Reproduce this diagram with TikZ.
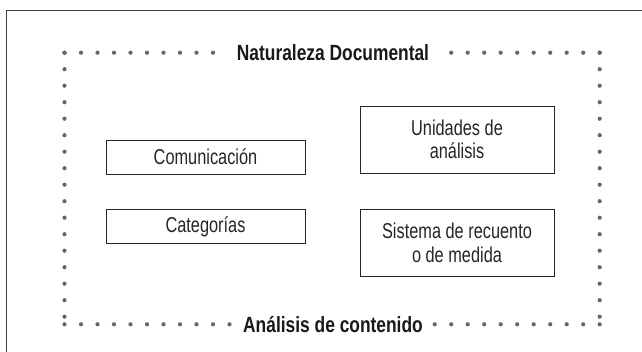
\documentclass[tikz,border=0pt]{standalone}
\usepackage{fontspec}
\setmainfont{Liberation Sans}
\newfontfamily\labelfont{Liberation Sans}[FakeStretch=0.76]
\newfontfamily\titlefont{Liberation Sans}[FakeStretch=0.79]
\begin{document}
\begin{tikzpicture}[x=1pt,y=-1pt,
  frameline/.style={draw=black!75,line width=1.3pt},
  dotline/.style={draw=black!60,line width=4.2pt,line cap=round,dash pattern=on 0pt off 16.5pt},
  boxnode/.style={draw=black!85,line width=0.9pt,fill=white,inner sep=0pt,align=center,text=black!85,font=\labelfont\fontsize{21.5}{23.5}\selectfont},
  titlenode/.style={fill=white,inner xsep=8pt,inner ysep=2pt,text=black!90,font=\titlefont\fontsize{22}{24}\selectfont\bfseries}]
\useasboundingbox (0,0) rectangle (642,352);
\fill[white] (0,0) rectangle (642,352);
% outer frame (open to the right and bottom)
\coordinate (fa) at (642,10.7);
\coordinate (fb) at (6.7,10.7);
\coordinate (fc) at (6.7,352);
\draw[frameline] (fa) -- (fb) -- (fc);
% dotted rectangle corners
\coordinate (nw) at (64.5,52.7);
\coordinate (ne) at (599.7,52.7);
\coordinate (sw) at (64.5,324.3);
\coordinate (se) at (599.7,324.3);
\node[titlenode] (top) at (333,52.7) {Naturaleza Documental};
\node[titlenode] (bot) at (333,324.3) {Análisis de contenido};
\draw[dotline] (nw) -- (top.west);
\draw[dotline] (ne) -- (top.east);
\draw[dotline] (sw) -- (bot.west);
\draw[dotline] (se) -- (bot.east);
\draw[dotline] (nw) -- (sw);
\draw[dotline] (ne) -- (se);
% boxes
\node[boxnode,minimum width=199pt,minimum height=34pt] (com) at (205.5,157) {Comunicación};
\node[boxnode,minimum width=199pt,minimum height=33.5pt] (cat) at (205.5,226.6) {Categorías};
\node[boxnode,minimum width=194pt,minimum height=67pt] (uni) at (457,139.5) {Unidades de\\análisis};
\node[boxnode,minimum width=194pt,minimum height=67pt] (sis) at (457,242.8) {Sistema de recuento\\o de medida};
\end{tikzpicture}
\end{document}
